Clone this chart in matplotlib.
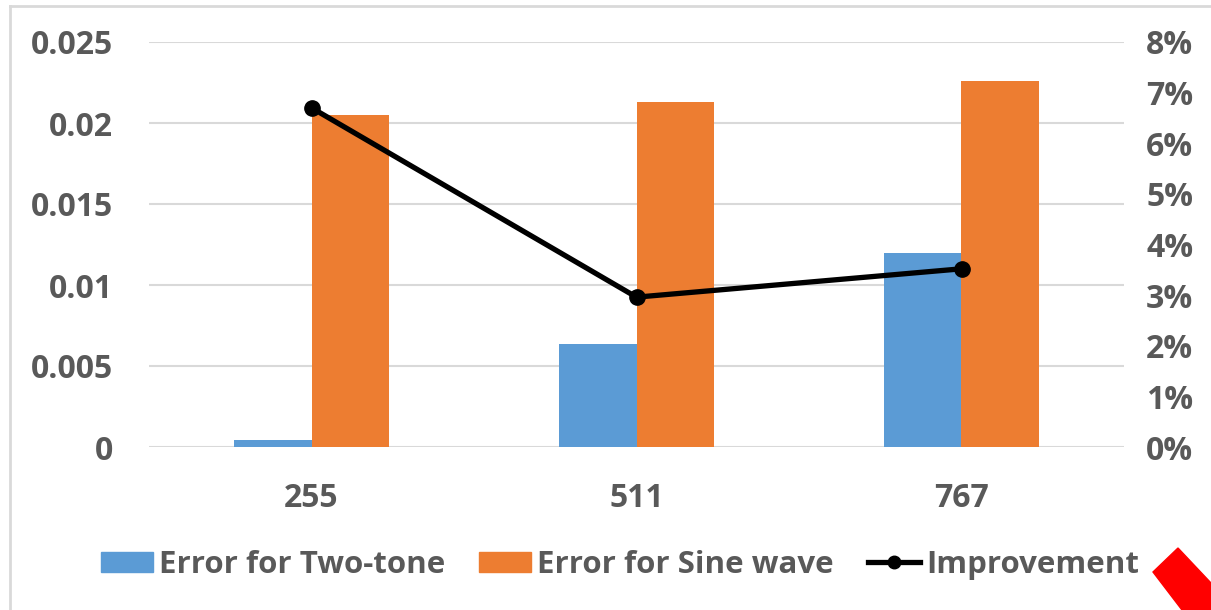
import numpy as np
import matplotlib.pyplot as plt
from matplotlib.patches import Polygon
from matplotlib.lines import Line2D

# data
categories = ["255", "511", "767"]
err_two_tone = [0.00043, 0.00636, 0.01199]
err_sine = [0.0205, 0.0213, 0.0226]
improvement = [0.0670, 0.0296, 0.0352]

text_col = "#595959"
grid_col = "#d9d9d9"
blue = "#5b9bd5"
orange = "#ed7d31"

plt.rcParams["font.family"] = ["Open Sans", "DejaVu Sans"]
plt.rcParams["font.weight"] = "bold"

fig = plt.figure(figsize=(12.11, 6.10), dpi=100)
ax = fig.add_axes([149 / 1211, 1 - 447 / 610, 975 / 1211, 405 / 610])
ax2 = ax.twinx()

x = np.arange(len(categories))
w = 0.238
ax.bar(x - w / 2, err_two_tone, w, color=blue, zorder=3, label="Error for Two-tone")
ax.bar(x + w / 2, err_sine, w, color=orange, zorder=3, label="Error for Sine wave")
ax2.plot(x, improvement, color="black", lw=3.8, marker="o", ms=11, zorder=4,
         label="Improvement")

ax.set_xlim(-0.5, 2.5)
ax.set_ylim(0, 0.025)
ax2.set_ylim(0, 0.08)
ax.set_yticks(np.arange(0, 0.0251, 0.005))
ax.set_yticklabels(["0", "0.005", "0.01", "0.015", "0.02", "0.025"])
ax2.set_yticks(np.arange(0, 0.081, 0.01))
ax2.set_yticklabels([f"{i}%" for i in range(9)])
ax.set_xticks(x)
ax.set_xticklabels(categories)

ax.grid(axis="y", color=grid_col, lw=1.5, zorder=0)
ax.set_axisbelow(True)
for a in (ax, ax2):
    for s in a.spines.values():
        s.set_visible(False)
ax.tick_params(axis="y", length=0, pad=26, labelsize=23, labelcolor=text_col)
ax.tick_params(axis="x", length=0, pad=25, labelsize=23, labelcolor=text_col)
ax2.tick_params(axis="y", length=0, pad=16, labelsize=23, labelcolor=text_col)
ax.set_zorder(1)
ax2.set_zorder(2)
ax2.patch.set_visible(False)

handles = [
    plt.Rectangle((0, 0), 1, 1, color=blue),
    plt.Rectangle((0, 0), 1, 1, color=orange),
    Line2D([], [], color="black", lw=3.8, marker="o", ms=9),
]
labels = ["Error for Two-tone", "Error for Sine wave", "Improvement"]
leg = fig.legend(handles, labels, loc="center", bbox_to_anchor=(620 / 1211, 1 - 565 / 610),
                 ncol=3, frameon=False, fontsize=22.5, handlelength=1.65, handleheight=0.62,
                 handletextpad=0.2, columnspacing=1.1)
for t in leg.get_texts():
    t.set_color(text_col)

# chart border (left and top visible)
fig.add_artist(Line2D([10 / 1211, 10 / 1211], [0, 1 - 6 / 610], color=grid_col, lw=2,
                      transform=fig.transFigure))
fig.add_artist(Line2D([10 / 1211, 1], [1 - 6 / 610, 1 - 6 / 610], color=grid_col, lw=2,
                      transform=fig.transFigure))

# red arrow partially visible at bottom right
arrow = [(1178, 548), (1153, 572), (1182, 610), (1211, 610), (1211, 583)]
fig.add_artist(Polygon([(px / 1211, 1 - py / 610) for px, py in arrow], closed=True,
                       color="red", transform=fig.transFigure))

fig.savefig("out.png", dpi=100)
